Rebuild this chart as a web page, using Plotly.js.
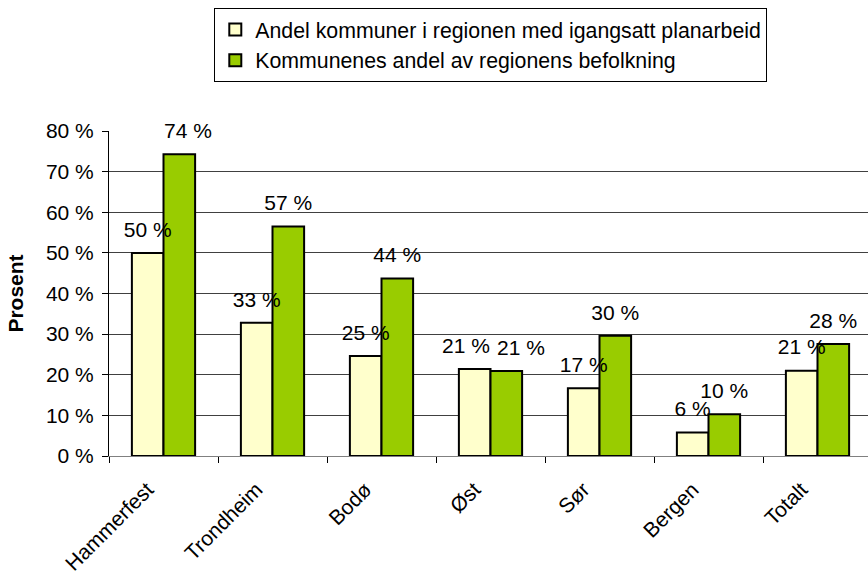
<!DOCTYPE html>
<html>
<head>
<meta charset="utf-8">
<script src="https://cdn.plot.ly/plotly-3.0.1.min.js"></script>
<style>
html,body{margin:0;padding:0;overflow:hidden;background:#fff;}
#chart{width:875px;height:572px;}
</style>
</head>
<body>
<div id="chart"></div>
<script>
const categories = ['Hammerfest','Trondheim','Bodø','Øst','Sør','Bergen','Totalt'];
const seriesNames = ['Andel kommuner i regionen med igangsatt planarbeid','Kommunenes andel av regionens befolkning'];
const andelKommuner = [50, 32.8, 24.6, 21.4, 16.7, 5.8, 21.0];
const andelKommunerLabels = ['50 %','33 %','25 %','21 %','17 %','6 %','21 %'];
const andelBefolkning = [74.3, 56.5, 43.7, 20.9, 29.6, 10.3, 27.6];
const andelBefolkningLabels = ['74 %','57 %','44 %','21 %','30 %','10 %','28 %'];
const yTickVals = [0,10,20,30,40,50,60,70,80];
const yTickText = ['0 %','10 %','20 %','30 %','40 %','50 %','60 %','70 %','80 %'];
const gridVals = [10,20,30,40,50,60,70];

const FONT = 'Liberation Sans, Arial, sans-serif';
const labelFont = {family:FONT,size:21,color:'#000'};

// the original nudges a few labels sideways so they do not collide;
// mimic that with non-breaking-space padding on those labels only
const NB = '\u00A0';
const labelsA = andelKommunerLabels.map((t, i) => categories[i] === 'Øst' ? t + NB.repeat(3) : t);
const labelsB = andelBefolkningLabels.map((t, i) =>
  categories[i] === 'Øst' ? NB.repeat(5) + t :
  categories[i] === 'Hammerfest' ? NB.repeat(3) + t : t);

const traces = [
  {
    type:'bar', name: seriesNames[0], x: categories, y: andelKommuner,
    marker:{color:'#FFFFCC', line:{color:'#000', width:2}},
    legendgroup:'a', hoverinfo:'x+y'
  },
  {
    type:'bar', name: seriesNames[1], x: categories, y: andelBefolkning,
    marker:{color:'#99CC00', line:{color:'#000', width:2}},
    legendgroup:'b', hoverinfo:'x+y'
  },
  {
    type:'scatter', mode:'markers+text', x: categories, y: andelKommuner,
    text: labelsA, textposition:'top center', textfont: labelFont,
    marker:{size:16, opacity:0}, cliponaxis:false, showlegend:false, hoverinfo:'skip'
  },
  {
    type:'scatter', mode:'markers+text', x: categories, y: andelBefolkning,
    text: labelsB, textposition:'top center', textfont: labelFont,
    marker:{size:16, opacity:0}, cliponaxis:false, showlegend:false, hoverinfo:'skip'
  },
  {
    type:'scatter', x: categories, y: categories.map(() => null), yaxis:'y2',
    showlegend:false, hoverinfo:'skip', mode:'markers'
  }
];

const layout = {
  width: 875, height: 572,
  margin:{l:109, r:3, t:131, b:116},
  paper_bgcolor:'#fff', plot_bgcolor:'rgba(0,0,0,0)',
  font:{family:FONT, size:21, color:'#000'},
  barmode:'group', bargap:0.42, bargroupgap:0,
  scattermode:'group', scattergap:0.42,
  showlegend:true,
  legend:{
    x:0.138, y:1.378, xanchor:'left', yanchor:'top',
    bordercolor:'#000', borderwidth:1, bgcolor:'#fff',
    font:{family:FONT,size:21.3,color:'#000'},
    itemwidth:30, tracegroupgap:6, traceorder:'normal'
  },
  xaxis:{
    type:'category', tickangle:-45, showgrid:false, zeroline:false,
    showline:true, linecolor:'#808080', linewidth:1,
    ticks:'outside', ticklen:6, tickcolor:'#000', tickson:'boundaries',
    tickfont:{family:FONT,size:21,color:'#000'},
    ticklabelshift:-16, ticklabelstandoff:12,
    fixedrange:true
  },
  yaxis:{
    range:[0,80], tickvals:yTickVals, ticktext:yTickText,
    showgrid:false, zeroline:false,
    showline:true, linecolor:'#000', linewidth:1,
    ticks:'outside', ticklen:6, tickcolor:'#000',
    tickfont:{family:FONT,size:21,color:'#000'},
    ticklabelstandoff:4,
    title:{text:'<b>Prosent</b>', font:{family:FONT,size:21,color:'#000'}, standoff:16},
    fixedrange:true
  },
  yaxis2:{
    range:[0,80], overlaying:'y', side:'left', tickvals:gridVals,
    showgrid:true, gridcolor:'#404040', gridwidth:1,
    showticklabels:false, ticks:'', zeroline:false, showline:false,
    fixedrange:true
  }
};

Plotly.newPlot('chart', traces, layout, {displayModeBar:false, staticPlot:true});
</script>
</body>
</html>
